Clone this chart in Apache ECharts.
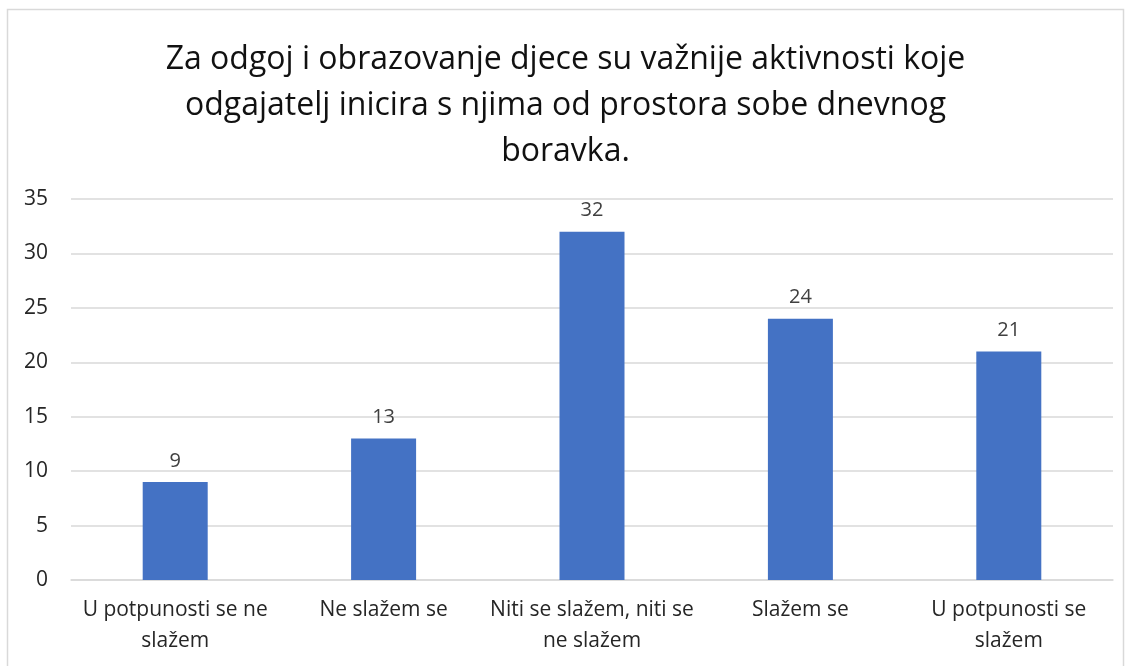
<!DOCTYPE html>
<html><head><meta charset="utf-8">
<script src="https://cdn.jsdelivr.net/npm/echarts@6/dist/echarts.min.js"></script>
<style>html,body{margin:0;padding:0;background:#fff}#c{width:1131px;height:666px}</style>
</head><body><div id="c"></div>
<script>
const titleText = 'Za odgoj i obrazovanje djece su važnije aktivnosti koje\nodgajatelj inicira s njima od prostora sobe dnevnog\nboravka.';
const categories = ['U potpunosti se ne\nslažem', 'Ne slažem se', 'Niti se slažem, niti se\nne slažem', 'Slažem se', 'U potpunosti se\nslažem'];
const values = [9, 13, 32, 24, 21];
const yTicks = {min: 0, max: 35, interval: 5};
const font = '"Open Sans", sans-serif';
const chart = echarts.init(document.getElementById('c'));
chart.setOption({
  animation: false,
  graphic: [{type: 'rect', shape: {x: 7.5, y: 9.5, width: 1116, height: 700}, style: {fill: 'none', stroke: '#d9d9d9', lineWidth: 1.5}, z: -1}],
  title: {text: titleText, left: 'center', top: 32, textStyle: {fontFamily: font, fontSize: 32, fontWeight: 'normal', color: '#111', lineHeight: 46}},
  grid: {left: 71, right: 18, top: 199, bottom: 86},
  xAxis: {type: 'category', data: categories,
    axisLine: {lineStyle: {color: '#d9d9d9', width: 1.5}}, axisTick: {show: false},
    axisLabel: {interval: 0, fontFamily: font, fontSize: 21, color: '#262626', margin: 15, lineHeight: 31}},
  yAxis: {type: 'value', min: yTicks.min, max: yTicks.max, interval: yTicks.interval,
    axisLine: {show: false}, axisTick: {show: false},
    splitLine: {lineStyle: {color: '#d9d9d9', width: 1.5}},
    axisLabel: {fontFamily: font, fontSize: 21, color: '#262626', margin: 23}},
  series: [{type: 'bar', data: values, barWidth: 65, itemStyle: {color: '#4472C4'},
    label: {show: true, position: 'top', distance: 11, fontFamily: font, fontSize: 20, color: '#404040'}}]
});
</script></body></html>
